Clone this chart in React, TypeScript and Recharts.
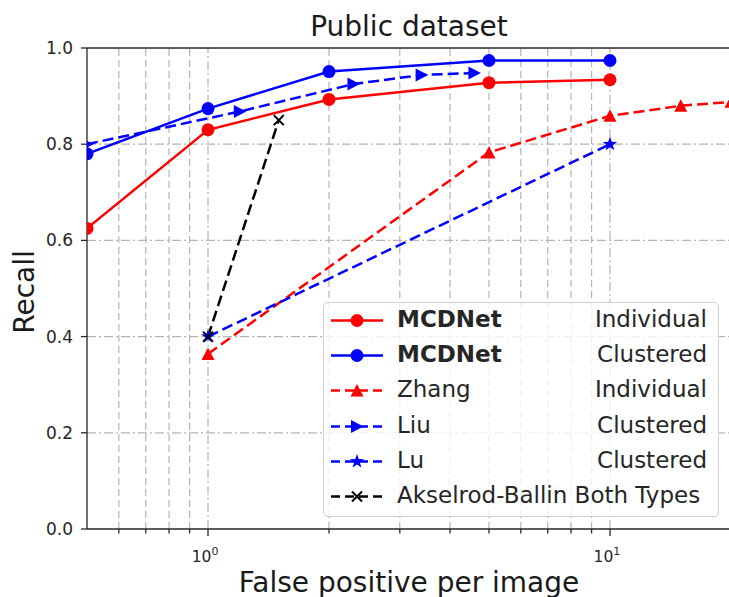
import React from 'react';
import { LineChart, Line, XAxis, YAxis, ReferenceLine } from 'recharts';

// values
const mcdX = [0.5, 1, 2, 5, 10];
const mcdIndividual = [0.625, 0.83, 0.893, 0.928, 0.934];
const mcdClustered = [0.78, 0.874, 0.951, 0.974, 0.974];
const zhangX = [1, 5, 10, 15, 20];
const zhangY = [0.364, 0.783, 0.859, 0.88, 0.888];
const liuX = [0.5, 1.2, 2.3, 3.4, 4.6];
const liuY = [0.8, 0.868, 0.925, 0.944, 0.948];
const luX = [1, 10];
const luY = [0.4, 0.8];
const akX = [1, 1.5];
const akY = [0.4, 0.85];

const majorX = [1, 10];
const minorX = [0.6, 0.7, 0.8, 0.9, 2, 3, 4, 5, 6, 7, 8, 9, 20];
const yTicks = [0, 0.2, 0.4, 0.6, 0.8, 1.0];
const yGrid = [0.2, 0.4, 0.6, 0.8];

const FONT = '"DejaVu Sans", Verdana, sans-serif';
const AXIS = '#262626';
const GRID = '#b4b4b4';

type Marker = 'circle' | 'triUp' | 'triRight' | 'star' | 'x';

const zip = (xs: number[], ys: number[]) => xs.map((x, i) => ({ x, y: ys[i] }));

const series = [
  { key: 'mcdInd', name: 'MCDNet', kind: 'Individual', bold: true, color: '#ff0000', dashed: false, marker: 'circle' as Marker, data: zip(mcdX, mcdIndividual) },
  { key: 'mcdClu', name: 'MCDNet', kind: 'Clustered', bold: true, color: '#0000ff', dashed: false, marker: 'circle' as Marker, data: zip(mcdX, mcdClustered) },
  { key: 'zhang', name: 'Zhang', kind: 'Individual', bold: false, color: '#ff0000', dashed: true, marker: 'triUp' as Marker, data: zip(zhangX, zhangY) },
  { key: 'liu', name: 'Liu', kind: 'Clustered', bold: false, color: '#0000ff', dashed: true, marker: 'triRight' as Marker, data: zip(liuX, liuY) },
  { key: 'lu', name: 'Lu', kind: 'Clustered', bold: false, color: '#0000ff', dashed: true, marker: 'star' as Marker, data: zip(luX, luY) },
  { key: 'ak', name: 'Akselrod-Ballin Both Types', kind: '', bold: false, color: '#000000', dashed: true, marker: 'x' as Marker, data: zip(akX, akY) },
];

function starPoints(cx: number, cy: number, r: number) {
  const pts: string[] = [];
  for (let i = 0; i < 10; i++) {
    const rad = i % 2 === 0 ? r : r * 0.4;
    const a = -Math.PI / 2 + (i * Math.PI) / 5;
    pts.push(`${cx + rad * Math.cos(a)},${cy + rad * Math.sin(a)}`);
  }
  return pts.join(' ');
}

function MarkerShape({ cx, cy, type, color }: { cx: number; cy: number; type: Marker; color: string }) {
  if (cx == null || cy == null) return null;
  switch (type) {
    case 'circle':
      return <circle cx={cx} cy={cy} r={6.5} fill={color} />;
    case 'triUp':
      return <polygon points={`${cx},${cy - 6.5} ${cx - 6.5},${cy + 6} ${cx + 6.5},${cy + 6}`} fill={color} />;
    case 'triRight':
      return <polygon points={`${cx + 6.5},${cy} ${cx - 6},${cy - 6.5} ${cx - 6},${cy + 6.5}`} fill={color} />;
    case 'star':
      return <polygon points={starPoints(cx, cy, 7.5)} fill={color} />;
    case 'x':
      return (
        <g stroke={color} strokeWidth={2}>
          <line x1={cx - 5} y1={cy - 5} x2={cx + 5} y2={cy + 5} />
          <line x1={cx - 5} y1={cy + 5} x2={cx + 5} y2={cy - 5} />
        </g>
      );
  }
  return null;
}

const XTick = (props: any) => {
  const { x, y, payload } = props;
  const major = majorX.includes(payload.value);
  return (
    <g>
      <line x1={x} x2={x} y1={y} y2={y + (major ? 7 : 4.5)} stroke={AXIS} strokeWidth={1.3} />
      {major && (
        <text x={x - 3} y={y + 33} textAnchor="middle" fontSize={15.5} fill={AXIS} fontFamily={FONT}>
          10
          <tspan dy={-7} fontSize={11}>{Math.round(Math.log10(payload.value))}</tspan>
        </text>
      )}
    </g>
  );
};

function LegendBox() {
  return (
    <div
      style={{
        position: 'absolute',
        left: 323,
        top: 302,
        width: 396,
        height: 215,
        boxSizing: 'border-box',
        border: '1.3px solid #d0d0d0',
        borderRadius: 5,
        background: 'rgba(255,255,255,0.8)',
        fontFamily: FONT,
        fontSize: 23,
        color: '#262626',
      }}
    >
      {series.map((s) => (
        <div key={s.key} style={{ position: 'relative', height: 35.2 }}>
          <svg width={56} height={35} style={{ position: 'absolute', left: 5, top: 0 }}>
            <line x1={2} x2={54} y1={17.5} y2={17.5} stroke={s.color} strokeWidth={2.5} strokeDasharray={s.dashed ? '9 5' : undefined} />
            <MarkerShape cx={28} cy={17.5} type={s.marker} color={s.color} />
          </svg>
          <span style={{ position: 'absolute', left: 73, top: 3, fontWeight: s.bold ? 'bold' : 'normal', whiteSpace: 'nowrap' }}>
            {s.name}
          </span>
          {s.kind && (
            <span style={{ position: 'absolute', right: 11, top: 3, whiteSpace: 'nowrap' }}>{s.kind}</span>
          )}
        </div>
      ))}
    </div>
  );
}

export default function App() {
  return (
    <div style={{ position: 'absolute', left: 0, top: 0, width: 729, height: 597, overflow: 'hidden', background: '#fff', fontFamily: FONT }}>
      <LineChart width={745} height={597} margin={{ top: 48, right: 14, bottom: 0, left: 0 }}>
        <XAxis
          dataKey="x"
          type="number"
          scale="log"
          domain={[0.5, 20]}
          allowDataOverflow
          ticks={[...minorX, ...majorX]}
          interval={0}
          tick={<XTick />}
          tickLine={false}
          tickSize={0}
          tickMargin={0}
          height={68}
          axisLine={{ stroke: AXIS, strokeWidth: 1.3 }}
        />
        <YAxis
          dataKey="y"
          type="number"
          domain={[0, 1]}
          ticks={yTicks}
          interval={0}
          width={87}
          tickSize={6}
          tickMargin={8}
          tickFormatter={(v: number) => v.toFixed(1)}
          tick={{ fontSize: 17, fill: AXIS, fontFamily: FONT }}
          tickLine={{ stroke: AXIS, strokeWidth: 1.3 }}
          axisLine={{ stroke: AXIS, strokeWidth: 1.3 }}
        />
        {yGrid.map((v) => (
          <ReferenceLine key={`hy${v}`} y={v} stroke={GRID} strokeWidth={1.2} strokeDasharray="9 3 2 3" />
        ))}
        {minorX.map((v) => (
          <ReferenceLine key={`mx${v}`} x={v} stroke={GRID} strokeWidth={1.2} strokeDasharray="7 4" />
        ))}
        {majorX.map((v) => (
          <ReferenceLine key={`Mx${v}`} x={v} stroke={GRID} strokeWidth={1.2} strokeDasharray="9 3 2 3" />
        ))}
        <ReferenceLine y={yTicks[yTicks.length - 1]} stroke={AXIS} strokeWidth={1.3} />
        {series.map((s) => (
          <Line
            key={s.key}
            data={s.data}
            dataKey="y"
            type="linear"
            stroke={s.color}
            strokeWidth={2.5}
            strokeDasharray={s.dashed ? '11 5' : undefined}
            isAnimationActive={false}
            dot={(p: any) => <MarkerShape key={`${s.key}-${p.index}`} cx={p.cx} cy={p.cy} type={s.marker} color={s.color} />}
            activeDot={false}
          />
        ))}
      </LineChart>
      <svg width={729} height={597} style={{ position: 'absolute', left: 0, top: 0, pointerEvents: 'none' }}>
        <text x={409} y={36} textAnchor="middle" fontSize={28} fill="#1a1a1a" fontFamily={FONT}>Public dataset</text>
        <text x={409} y={592} textAnchor="middle" fontSize={28} fill="#1a1a1a" fontFamily={FONT}>False positive per image</text>
        <text transform="translate(34,292) rotate(-90)" textAnchor="middle" fontSize={28} fill="#1a1a1a" fontFamily={FONT}>Recall</text>
      </svg>
      <LegendBox />
    </div>
  );
}
